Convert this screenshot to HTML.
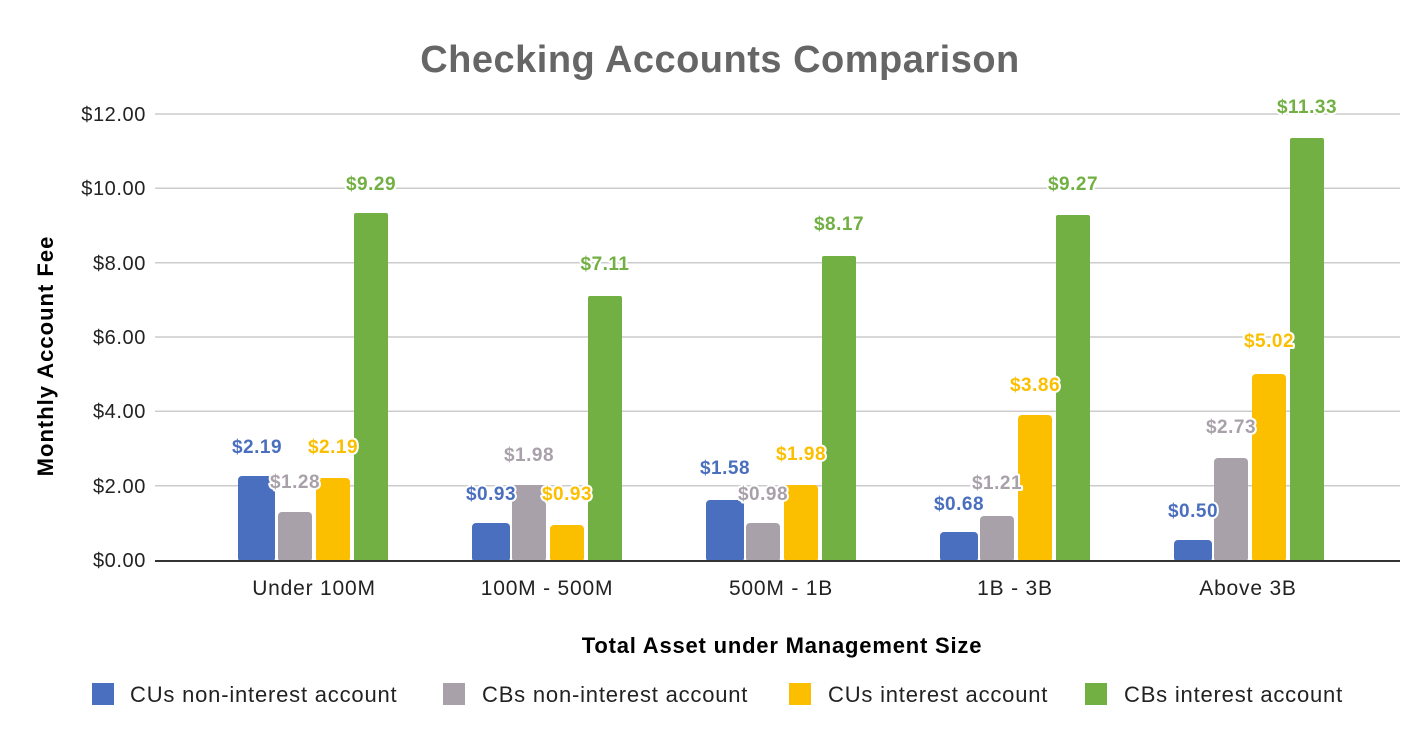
<!DOCTYPE html>
<html><head><meta charset="utf-8"><style>
html,body{margin:0;padding:0;background:#fff;}
svg{display:block;font-family:"Liberation Sans",Arial,sans-serif;}
.lb{font-weight:bold;font-size:19px;letter-spacing:0.5px;text-anchor:middle;paint-order:stroke;stroke:#fff;stroke-width:4px;stroke-linejoin:round;}
.ax{font-size:20px;letter-spacing:0.6px;fill:#222;}
</style></head><body>
<svg width="1406" height="742" viewBox="0 0 1406 742">
<text x="720" y="72" text-anchor="middle" font-size="38" letter-spacing="0.5" font-weight="bold" fill="#666">Checking Accounts Comparison</text>
<g stroke="#ccc" stroke-width="1.5">
<line x1="155" x2="1400" y1="114" y2="114"/><line x1="155" x2="1400" y1="188.3" y2="188.3"/>
<line x1="155" x2="1400" y1="262.7" y2="262.7"/><line x1="155" x2="1400" y1="337" y2="337"/>
<line x1="155" x2="1400" y1="411.3" y2="411.3"/><line x1="155" x2="1400" y1="485.7" y2="485.7"/>
</g>
<g class="ax" text-anchor="end">
<text x="146" y="121">$12.00</text><text x="146" y="195">$10.00</text><text x="146" y="270">$8.00</text>
<text x="146" y="344">$6.00</text><text x="146" y="418">$4.00</text><text x="146" y="493">$2.00</text><text x="146" y="567">$0.00</text>
</g>
<text transform="translate(53,356) rotate(-90)" text-anchor="middle" font-size="22" letter-spacing="1" font-weight="bold" fill="#000">Monthly Account Fee</text>
<g id="bars">
<rect x="238" y="476" width="37" height="86" rx="4" fill="#4a6fbe"/>
<rect x="278" y="512" width="34" height="50" rx="4" fill="#a9a1aa"/>
<rect x="316" y="478" width="34" height="84" rx="4" fill="#fcbf00"/>
<rect x="354" y="213" width="34" height="349" rx="2" fill="#72b043"/>
<rect x="472" y="523" width="38" height="39" rx="4" fill="#4a6fbe"/>
<rect x="512" y="485" width="34" height="77" rx="4" fill="#a9a1aa"/>
<rect x="550" y="525" width="34" height="37" rx="4" fill="#fcbf00"/>
<rect x="588" y="296" width="34" height="266" rx="2" fill="#72b043"/>
<rect x="706" y="500" width="38" height="62" rx="4" fill="#4a6fbe"/>
<rect x="746" y="523" width="34" height="39" rx="4" fill="#a9a1aa"/>
<rect x="784" y="485" width="34" height="77" rx="4" fill="#fcbf00"/>
<rect x="822" y="256" width="34" height="306" rx="2" fill="#72b043"/>
<rect x="940" y="532" width="38" height="30" rx="4" fill="#4a6fbe"/>
<rect x="980" y="516" width="34" height="46" rx="4" fill="#a9a1aa"/>
<rect x="1018" y="415" width="34" height="147" rx="4" fill="#fcbf00"/>
<rect x="1056" y="215" width="34" height="347" rx="2" fill="#72b043"/>
<rect x="1174" y="540" width="38" height="22" rx="4" fill="#4a6fbe"/>
<rect x="1214" y="458" width="34" height="104" rx="4" fill="#a9a1aa"/>
<rect x="1252" y="374" width="34" height="188" rx="4" fill="#fcbf00"/>
<rect x="1290" y="138" width="34" height="424" rx="2" fill="#72b043"/>
</g>
<line x1="155" x2="1400" y1="561" y2="561" stroke="#333" stroke-width="2"/>
<g>
<text class="lb" x="257" y="453" fill="#4a6fbe">$2.19</text>
<text class="lb" x="295" y="488" fill="#a9a1aa">$1.28</text>
<text class="lb" x="333" y="453" fill="#fcbf00">$2.19</text>
<text class="lb" x="371" y="190" fill="#72b043">$9.29</text>
<text class="lb" x="491" y="500" fill="#4a6fbe">$0.93</text>
<text class="lb" x="529" y="461" fill="#a9a1aa">$1.98</text>
<text class="lb" x="567" y="500" fill="#fcbf00">$0.93</text>
<text class="lb" x="605" y="270" fill="#72b043">$7.11</text>
<text class="lb" x="725" y="474" fill="#4a6fbe">$1.58</text>
<text class="lb" x="763" y="500" fill="#a9a1aa">$0.98</text>
<text class="lb" x="801" y="460" fill="#fcbf00">$1.98</text>
<text class="lb" x="839" y="230" fill="#72b043">$8.17</text>
<text class="lb" x="959" y="510" fill="#4a6fbe">$0.68</text>
<text class="lb" x="997" y="489" fill="#a9a1aa">$1.21</text>
<text class="lb" x="1035" y="391" fill="#fcbf00">$3.86</text>
<text class="lb" x="1073" y="190" fill="#72b043">$9.27</text>
<text class="lb" x="1193" y="517" fill="#4a6fbe">$0.50</text>
<text class="lb" x="1231" y="433" fill="#a9a1aa">$2.73</text>
<text class="lb" x="1269" y="347" fill="#fcbf00">$5.02</text>
<text class="lb" x="1307" y="113" fill="#72b043">$11.33</text>
</g>
<g font-size="21" letter-spacing="0.8" fill="#222" text-anchor="middle">
<text x="314" y="595">Under 100M</text><text x="547" y="595">100M - 500M</text>
<text x="781" y="595">500M - 1B</text><text x="1015" y="595">1B - 3B</text><text x="1248" y="595">Above 3B</text>
</g>
<text x="782" y="653" text-anchor="middle" font-size="22" letter-spacing="0.8" font-weight="bold" fill="#000">Total Asset under Management Size</text>
<g font-size="22" letter-spacing="0.8" fill="#222">
<rect x="92" y="683" width="22" height="22" fill="#4a6fbe"/><text x="130" y="702">CUs non-interest account</text>
<rect x="443" y="683" width="22" height="22" fill="#a9a1aa"/><text x="482" y="702">CBs non-interest account</text>
<rect x="789" y="683" width="22" height="22" fill="#fcbf00"/><text x="828" y="702">CUs interest account</text>
<rect x="1085" y="683" width="22" height="22" fill="#72b043"/><text x="1124" y="702">CBs interest account</text>
</g>
</svg>
</body></html>
